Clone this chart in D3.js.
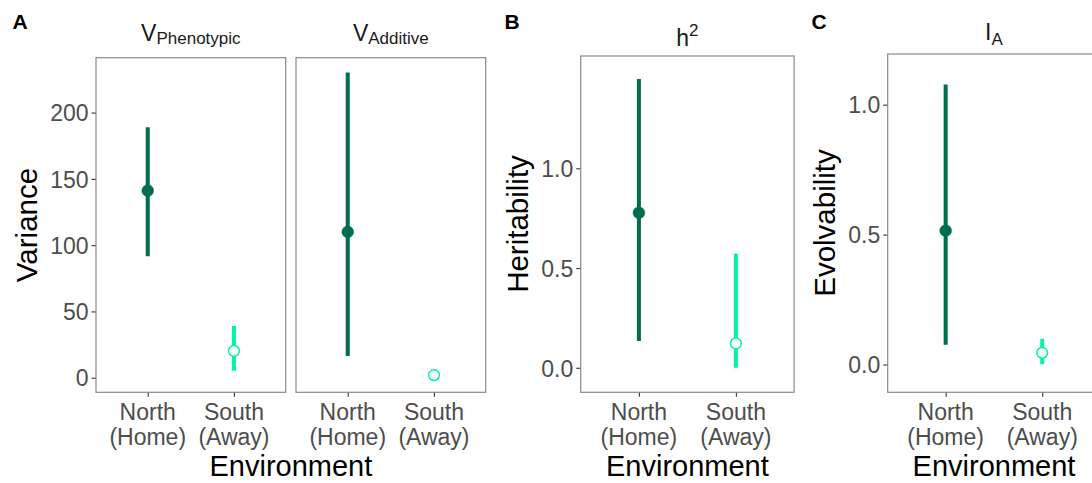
<!DOCTYPE html>
<html lang="en">
  <head>
    <meta charset="UTF-8" />
    <title>Variance, heritability and evolvability by environment</title>
    <script src="https://d3js.org/d3.v7.min.js"></script>
    <style>
      body { margin: 0; background: #fff; }
      text { font-family: "Liberation Sans", Arial, sans-serif; }
    </style>
  </head>
  <body>
    <svg width="1092" height="483"></svg>

    <script>
      // categories
      const environments = ["North", "South"];
      const envSubLabels = ["(Home)", "(Away)"];

      // estimates with lower / upper interval, North then South
      const vpEst = [141.1, 20.2];
      const vpLow = [91.6, 5.3];
      const vpHigh = [189.0, 39.0];

      const vaEst = [110.0, 2.0];
      const vaLow = [16.4, 0.5];
      const vaHigh = [230.2, 3.5];

      const h2Est = [0.777, 0.122];
      const h2Low = [0.134, 0.0];
      const h2High = [1.448, 0.572];

      const iaEst = [0.515, 0.045];
      const iaLow = [0.076, 0.001];
      const iaHigh = [1.078, 0.099];

      // tick labels
      const varianceTicks = [0, 50, 100, 150, 200];
      const ratioTicks = [0.0, 0.5, 1.0];

      const colors = { North: "#006d4e", South: "#00f59e" };

      const svg = d3.select("svg");
      const bottom = 392.3;

      // panel layout
      const panels = [
        { x0: 96, x1: 285.7, top: 57.7, domain: [-11.0, 241.4], ticks: varianceTicks, fmt: d3.format("d"), showY: true,
          est: vpEst, low: vpLow, high: vpHigh, title: ["V", "Phenotypic", "sub"] },
        { x0: 296, x1: 485.7, top: 57.7, domain: [-11.0, 241.4], ticks: varianceTicks, fmt: d3.format("d"), showY: false,
          est: vaEst, low: vaLow, high: vaHigh, title: ["V", "Additive", "sub"] },
        { x0: 580.7, x1: 794.1, top: 56, domain: [-0.123, 1.563], ticks: ratioTicks, fmt: d3.format(".1f"), showY: true,
          est: h2Est, low: h2Low, high: h2High, title: ["h", "2", "sup"] },
        { x0: 887.7, x1: 1100.2, top: 54, domain: [-0.107, 1.195], ticks: ratioTicks, fmt: d3.format(".1f"), showY: true,
          est: iaEst, low: iaLow, high: iaHigh, title: ["I", "A", "sub"] }
      ];

      panels.forEach((p) => {
        const x = d3.scalePoint().domain(environments).range([p.x0, p.x1]).padding(0.6);
        const y = d3.scaleLinear().domain(p.domain).range([bottom, p.top]);
        const g = svg.append("g");

        // y axis
        if (p.showY) {
          const yAxis = g.append("g")
            .attr("transform", `translate(${p.x0},0)`)
            .call(d3.axisLeft(y).tickValues(p.ticks).tickFormat(p.fmt).tickSize(4.5).tickPadding(3));
          yAxis.select(".domain").remove();
          yAxis.selectAll(".tick line").attr("stroke", "#333").attr("stroke-width", 1.1);
          yAxis.selectAll(".tick text")
            .attr("fill", "#4d4d4d")
            .style("font-size", "23px")
            .style("font-family", "'Liberation Sans', Arial, sans-serif")
            .attr("dy", "0.36em");
        }

        // x axis
        const xAxis = g.append("g")
          .attr("transform", `translate(0,${bottom})`)
          .call(d3.axisBottom(x).tickSize(4.5).tickFormat(""));
        xAxis.select(".domain").remove();
        xAxis.selectAll(".tick line").attr("stroke", "#333").attr("stroke-width", 1.1);
        environments.forEach((e, i) => {
          const t = g.append("text")
            .attr("x", x(e))
            .attr("text-anchor", "middle")
            .attr("fill", "#4d4d4d")
            .style("font-size", "23px");
          t.append("tspan").attr("x", x(e)).attr("y", 419.5).text(e);
          t.append("tspan").attr("x", x(e)).attr("y", 445).text(envSubLabels[i]);
        });

        // interval lines
        environments.forEach((e, i) => {
          g.append("line")
            .attr("x1", x(e)).attr("x2", x(e))
            .attr("y1", y(p.low[i])).attr("y2", y(p.high[i]))
            .attr("stroke", colors[e])
            .attr("stroke-width", 4);
        });

        // points
        environments.forEach((e, i) => {
          const filled = e === "North";
          g.append("circle")
            .attr("cx", x(e))
            .attr("cy", y(p.est[i]))
            .attr("r", filled ? 5.9 : 5.4)
            .attr("fill", filled ? colors[e] : "#fff")
            .attr("stroke", colors[e])
            .attr("stroke-width", filled ? 0.5 : 1.5);
        });

        // panel border
        g.append("rect")
          .attr("x", p.x0).attr("y", p.top)
          .attr("width", p.x1 - p.x0).attr("height", bottom - p.top)
          .attr("fill", "none")
          .attr("stroke", "#8a8a8a")
          .attr("stroke-width", 1.2);

        // strip title
        const cx = (p.x0 + p.x1) / 2;
        const base = p.title[2] === "sup" ? 45.7 : (p.title[0] === "I" ? 39.5 : 41);
        const tt = g.append("text")
          .attr("x", cx).attr("y", base)
          .attr("text-anchor", "middle")
          .attr("fill", "#1a1a1a")
          .style("font-size", "23px");
        tt.append("tspan").text(p.title[0]);
        tt.append("tspan")
          .attr("dy", p.title[2] === "sup" ? -10 : (p.title[0] === "I" ? 5.5 : 3))
          .style("font-size", "17px")
          .text(p.title[1]);
      });

      // axis titles
      const yTitles = [
        { text: "Variance", x: 37, y: 225 },
        { text: "Heritability", x: 528, y: 224 },
        { text: "Evolvability", x: 835, y: 223 }
      ];
      yTitles.forEach((d) => {
        svg.append("text")
          .attr("transform", `translate(${d.x},${d.y}) rotate(-90)`)
          .attr("text-anchor", "middle")
          .attr("fill", "#000")
          .style("font-size", "29.5px")
          .text(d.text);
      });

      [290.9, 687.4, 994].forEach((cx) => {
        svg.append("text")
          .attr("x", cx).attr("y", 475.5)
          .attr("text-anchor", "middle")
          .attr("fill", "#000")
          .style("font-size", "29px")
          .text("Environment");
      });

      // panel tags
      [["A", 12.5], ["B", 504.5], ["C", 811.5]].forEach(([t, x]) => {
        svg.append("text")
          .attr("x", x).attr("y", 28.5)
          .attr("fill", "#000")
          .style("font-size", "21px")
          .style("font-weight", "bold")
          .text(t);
      });
    </script>
  </body>
</html>
